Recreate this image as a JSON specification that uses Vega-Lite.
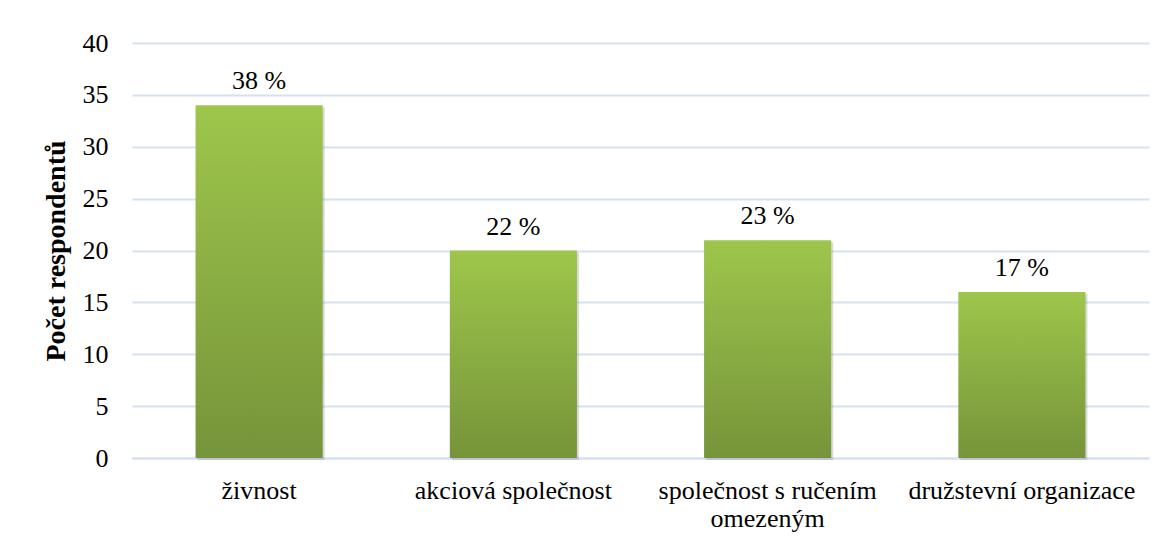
{
  "$schema": "https://vega.github.io/schema/vega-lite/v6.json",
  "width": 1017,
  "height": 415,
  "autosize": {"type": "none"},
  "padding": {"left": 132, "top": 43, "right": 19, "bottom": 85},
  "background": "white",
  "config": {
    "view": {"stroke": null},
    "font": "Times New Roman, Liberation Serif, serif",
    "axis": {"labelFont": "Times New Roman, Liberation Serif, serif", "titleFont": "Times New Roman, Liberation Serif, serif"}
  },
  "data": {
    "values": [
      {"typ": "živnost", "pocet": 34, "podil": "38 %"},
      {"typ": "akciová společnost", "pocet": 20, "podil": "22 %"},
      {"typ": "společnost s ručením omezeným", "pocet": 21, "podil": "23 %"},
      {"typ": "družstevní organizace", "pocet": 16, "podil": "17 %"}
    ]
  },
  "encoding": {
    "x": {
      "field": "typ",
      "type": "nominal",
      "sort": null,
      "scale": {"paddingInner": 0.5, "paddingOuter": 0.25},
      "axis": {
        "title": null,
        "labelAngle": 0,
        "labelFont": "Times New Roman, Liberation Serif, serif",
        "labelFontSize": 26,
        "labelColor": "#000000",
        "labelPadding": 19,
        "labelLineHeight": 28,
        "labelLimit": 400,
        "ticks": false,
        "tickSize": 0,
        "domainColor": "#D5E0F1",
        "domainWidth": 2,
        "labelExpr": "datum.value == 'společnost s ručením omezeným' ? ['společnost s ručením', 'omezeným'] : datum.value"
      }
    },
    "y": {
      "field": "pocet",
      "type": "quantitative",
      "scale": {"domain": [0, 40]},
      "axis": {
        "title": "Počet respondentů",
        "titleFontSize": 28,
        "titleFontWeight": "bold",
        "titleColor": "#000000",
        "titlePadding": 12,
        "values": [0, 5, 10, 15, 20, 25, 30, 35, 40],
        "labelFontSize": 26,
        "labelColor": "#000000",
        "labelPadding": 24,
        "ticks": false,
        "tickSize": 0,
        "domain": false,
        "grid": true,
        "gridColor": "#D5E0F1",
        "gridWidth": 2
      }
    }
  },
  "layer": [
    {
      "mark": {"type": "bar", "color": "#808080", "opacity": 0.3, "xOffset": 2, "yOffset": 2}
    },
    {
      "mark": {
        "type": "bar",
        "color": {
          "gradient": "linear",
          "x1": 0, "y1": 0, "x2": 0, "y2": 1,
          "stops": [
            {"offset": 0, "color": "#9EC64B"},
            {"offset": 1, "color": "#76943A"}
          ]
        }
      }
    },
    {
      "mark": {"type": "text", "font": "Times New Roman, Liberation Serif, serif", "fontSize": 26, "color": "#000000", "baseline": "alphabetic", "dy": -16},
      "encoding": {"text": {"field": "podil"}}
    }
  ]
}
